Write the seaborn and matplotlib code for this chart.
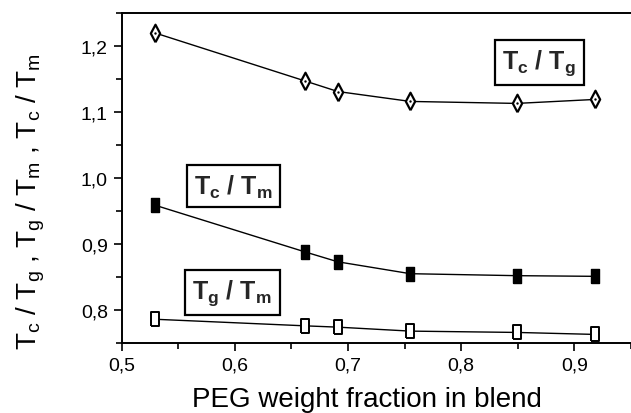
import numpy as np
import pandas as pd
import seaborn as sns
import matplotlib
matplotlib.use("Agg")
import matplotlib.pyplot as plt
from matplotlib.ticker import FuncFormatter, MultipleLocator

# ---- data ----
peg = [0.529, 0.662, 0.691, 0.755, 0.849, 0.918]
tc_tg = [1.220, 1.147, 1.131, 1.116, 1.113, 1.119]
tc_tm = [0.959, 0.888, 0.873, 0.855, 0.852, 0.851]
tg_tm = [0.786, 0.776, 0.774, 0.768, 0.766, 0.763]
xticks = [0.5, 0.6, 0.7, 0.8, 0.9]
yticks = [0.8, 0.9, 1.0, 1.1, 1.2]

sns.set_theme(style="ticks")
plt.rcParams["font.family"] = ["Liberation Sans", "DejaVu Sans"]
plt.rcParams["mathtext.fontset"] = "custom"
plt.rcParams["mathtext.rm"] = "Liberation Sans"
plt.rcParams["mathtext.it"] = "Liberation Sans:italic"
plt.rcParams["mathtext.bf"] = "Liberation Sans:bold"

fig = plt.figure(figsize=(6.31, 4.14), dpi=100)
ax = fig.add_axes([0.1929, 0.1691, 0.8071, 0.7971])

df = pd.DataFrame({"x": peg, "tc_tg": tc_tg, "tc_tm": tc_tm, "tg_tm": tg_tm})

rect = [(-0.6, -1), (0.6, -1), (0.6, 1), (-0.6, 1), (-0.6, -1)]
diam = [(0, -1), (0.53, 0), (0, 1), (-0.53, 0), (0, -1)]

for col in ["tc_tg", "tc_tm", "tg_tm"]:
    sns.lineplot(data=df, x="x", y=col, ax=ax, color="black", lw=1.0)

sns.scatterplot(data=df, x="x", y="tc_tg", ax=ax, marker=diam, s=160,
                facecolor="white", edgecolor="black", linewidth=1.6, zorder=5)
sns.scatterplot(data=df, x="x", y="tc_tg", ax=ax, marker="o", s=3,
                color="black", linewidth=0, zorder=6)
sns.scatterplot(data=df, x="x", y="tc_tm", ax=ax, marker=rect, s=110,
                facecolor="black", edgecolor="black", linewidth=1.0, zorder=5)
sns.scatterplot(data=df, x="x", y="tg_tm", ax=ax, marker=rect, s=88,
                facecolor="white", edgecolor="black", linewidth=1.4, zorder=5)

ax.set_xlim(0.5, 0.95)
ax.set_ylim(0.75, 1.25)
ax.set_xticks(xticks)
ax.set_yticks(yticks)
ax.xaxis.set_minor_locator(MultipleLocator(0.05))
ax.yaxis.set_minor_locator(MultipleLocator(0.05))
fmt = FuncFormatter(lambda v, p: f"{v:.1f}".replace(".", ","))
ax.xaxis.set_major_formatter(fmt)
ax.yaxis.set_major_formatter(fmt)
ax.tick_params(axis="both", which="major", direction="out", length=6, width=1.2,
               labelsize=14, color="black", labelcolor="black", pad=4)
ax.tick_params(axis="both", which="minor", direction="out", length=4, width=1.2,
               color="black")

for s in ["left", "bottom", "top"]:
    ax.spines[s].set_color("black")
    ax.spines[s].set_linewidth(1.4)
ax.spines["right"].set_visible(False)
ax.set_xlabel("")
ax.set_ylabel("")

fig.text(367 / 631, 1 - 407 / 414, "PEG weight fraction in blend", fontsize=20,
         color="black", ha="center", va="baseline")
fig.text(31 / 631, 1 - 202 / 414,
         r"T$_\mathregular{c}$ / T$_\mathregular{g}$ , T$_\mathregular{g}$ / T$_\mathregular{m}$ , T$_\mathregular{c}$ / T$_\mathregular{m}$",
         fontsize=20, color="black", rotation=90, ha="center", va="center")

box = dict(boxstyle="square,pad=0.3", facecolor="white", edgecolor="black", linewidth=1.6)
ax.text(0.869, 1.175, r"$\mathbf{T_c\ /\ T_g}$", fontsize=18, ha="center", va="center", bbox=box)
ax.text(0.5987, 0.988, r"$\mathbf{T_c\ /\ T_m}$", fontsize=18, ha="center", va="center", bbox=box)
ax.text(0.5977, 0.8265, r"$\mathbf{T_g\ /\ T_m}$", fontsize=18, ha="center", va="center", bbox=box)

fig.savefig("out.png", dpi=100)
